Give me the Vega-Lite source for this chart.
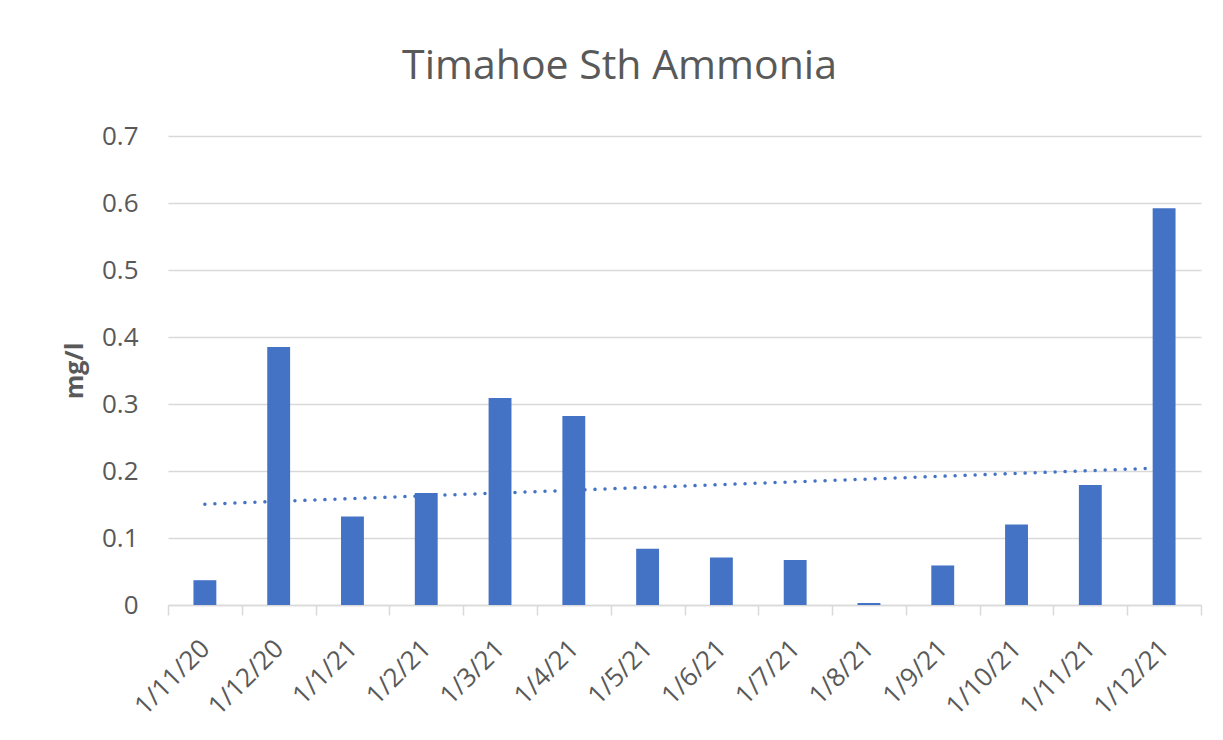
{
  "$schema": "https://vega.github.io/schema/vega-lite/v6.json",
  "autosize": "none",
  "width": 1033,
  "height": 469,
  "padding": {"left": 168, "top": 136, "right": 22, "bottom": 135},
  "background": "white",
  "title": {
    "text": "Timahoe Sth Ammonia",
    "font": "Open Sans",
    "fontSize": 41,
    "fontWeight": "normal",
    "color": "#595959",
    "anchor": "middle",
    "dx": -65,
    "offset": 35
  },
  "data": {
    "values": [
      {"date": "1/11/20", "value": 0.037},
      {"date": "1/12/20", "value": 0.385},
      {"date": "1/1/21", "value": 0.132},
      {"date": "1/2/21", "value": 0.167},
      {"date": "1/3/21", "value": 0.309},
      {"date": "1/4/21", "value": 0.282},
      {"date": "1/5/21", "value": 0.084},
      {"date": "1/6/21", "value": 0.071},
      {"date": "1/7/21", "value": 0.067},
      {"date": "1/8/21", "value": 0.003},
      {"date": "1/9/21", "value": 0.059},
      {"date": "1/10/21", "value": 0.120},
      {"date": "1/11/21", "value": 0.179},
      {"date": "1/12/21", "value": 0.592}
    ]
  },
  "layer": [
    {
      "mark": {"type": "bar", "color": "#4472C4", "width": {"band": 0.31}},
      "encoding": {
        "x": {
          "field": "date",
          "type": "nominal",
          "sort": null,
          "scale": {"paddingInner": 0, "paddingOuter": 0},
          "axis": {
            "title": null,
            "labelAngle": -45,
            "labelFont": "Open Sans",
            "labelFontSize": 26,
            "labelColor": "#595959",
            "labelPadding": 20,
            "labelOffset": -9,
            "domainColor": "#d9d9d9",
            "domainWidth": 1.5,
            "tickColor": "#d9d9d9",
            "tickWidth": 1.5,
            "tickSize": 10,
            "tickBand": "extent",
            "grid": false
          }
        },
        "y": {
          "field": "value",
          "type": "quantitative",
          "scale": {"domain": [0, 0.7], "nice": false},
          "axis": {
            "title": "mg/l",
            "titleFont": "Open Sans",
            "titleFontSize": 25,
            "titleFontWeight": "bold",
            "titleColor": "#595959",
            "titlePadding": 14,
            "values": [0, 0.1, 0.2, 0.3, 0.4, 0.5, 0.6, 0.7],
            "format": "~g",
            "labelFont": "Open Sans",
            "labelFontSize": 26,
            "labelColor": "#595959",
            "labelPadding": 30,
            "ticks": false,
            "domain": false,
            "gridColor": "#d9d9d9",
            "gridWidth": 1.5
          }
        }
      }
    },
    {
      "transform": [
        {"window": [{"op": "row_number", "as": "idx"}]},
        {"regression": "value", "on": "idx"}
      ],
      "mark": {"type": "line", "color": "#4472C4", "strokeWidth": 3.5, "strokeDash": [0.01, 10], "strokeCap": "round"},
      "encoding": {
        "x": {"field": "idx", "type": "quantitative", "scale": {"domain": [0.5, 14.5], "nice": false, "zero": false}, "axis": null},
        "y": {"field": "value", "type": "quantitative"}
      }
    }
  ],
  "resolve": {"scale": {"x": "independent"}},
  "config": {"view": {"stroke": null}}
}
